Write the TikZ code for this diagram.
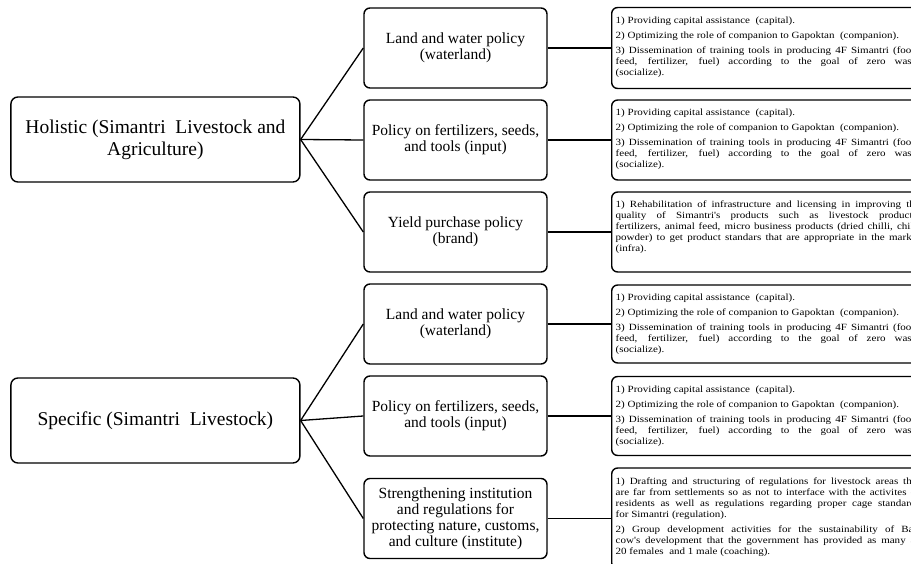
\documentclass[tikz,border=0pt]{standalone}
\usepackage{fontspec}
\setmainfont{Liberation Serif}
\newfontfamily\notefont[FakeStretch=1.16]{Liberation Serif}
\usepackage{tikz}

\newcommand{\notesize}{\notefont\fontsize{9.5}{11}\selectfont}
\newcommand{\notepar}[2]{\parbox[c][#1][t]{304pt}{\notesize\vspace*{1pt}\setlength{\parindent}{0pt}\setlength{\parskip}{4pt}#2}}
\newcommand{\capitaltext}{1) Providing capital assistance~ (capital).\par
2) Optimizing the role of companion to~Gapoktan~ (companion).\par
3) Dissemination of training tools in producing 4F Simantri (food,\linebreak feed, fertilizer, fuel) according to the goal of zero waste\linebreak (socialize).}

\begin{document}
\begin{tikzpicture}[x=1pt, y=-1pt,
    rootbox/.style={draw, line width=1.4pt, rounded corners=7pt, minimum width=289pt, minimum height=85pt, inner sep=0pt, align=center, font=\fontsize{19.5}{22}\selectfont},
    policybox/.style={draw, line width=1.4pt, rounded corners=6pt, minimum width=183pt, minimum height=80pt, inner sep=0pt, align=center, font=\fontsize{15.5}{16}\selectfont},
    notebox/.style={draw, line width=1.4pt, rounded corners=6pt, inner sep=4pt, anchor=west},
    link/.style={line width=1.3pt}]
        \useasboundingbox (0,0) rectangle (911,564);
        \clip (0,0) rectangle (911,564);

        % Two approaches
        \node[rootbox] (hol) at (155.4,139.5) {Holistic (Simantri~ Livestock and\\Agriculture)};
        \node[rootbox] (spec) at (155.4,420.5) {Specific (Simantri~ Livestock)};

        % Policies
        \node[policybox] (m1) at (455.5,48) {Land and water policy\\(waterland)};
        \node[policybox] (m2) at (455.5,140) {Policy on fertilizers, seeds,\\and tools (input)};
        \node[policybox] (m3) at (455.5,232) {Yield purchase policy\\(brand)};
        \node[policybox] (m4) at (455.5,324) {Land and water policy\\(waterland)};
        \node[policybox] (m5) at (455.5,416) {Policy on fertilizers, seeds,\\and tools (input)};
        \node[policybox] (m6) at (455.5,518.5) {Strengthening institution\\and regulations for\\protecting nature, customs,\\and culture (institute)};

        % Programmes
        \node[notebox] (r1) at (611,48) {\notepar{73pt}{\capitaltext}};
        \node[notebox] (r2) at (611,140) {\notepar{72pt}{\capitaltext}};
        \node[notebox] (r3) at (611,232) {\notepar{72pt}{1) Rehabilitation of infrastructure and licensing in improving the\linebreak quality of Simantri's products such as livestock products,\linebreak fertilizers, animal feed, micro business products (dried chilli, chilli\linebreak powder) to get product standars that are appropriate in the market\linebreak (infra).}};
        \node[notebox] (r4) at (611,324) {\notepar{70pt}{\capitaltext}};
        \node[notebox] (r5) at (611,416) {\notepar{71pt}{\capitaltext}};
        \node[notebox] (r6) at (611,518.5) {\notepar{93pt}{\vspace*{1pt}1) Drafting and structuring of regulations for livestock areas that\linebreak are far from settlements so as not to interface with the activites of\linebreak residents as well as regulations regarding proper cage standards\linebreak for Simantri (regulation).\par
2) Group development activities for the sustainability of Bali\linebreak cow's development that the government has provided as many as\linebreak 20 females~ and 1 male (coaching).}};

        \draw[link] (hol.east) -- (m1.west);
        \draw[link] (hol.east) -- (m2.west);
        \draw[link] (hol.east) -- (m3.west);
        \draw[link] (spec.east) -- (m4.west);
        \draw[link] (spec.east) -- (m5.west);
        \draw[link] (spec.east) -- (m6.west);
        \draw[link] (m1) -- (r1);
        \draw[link] (m2) -- (r2);
        \draw[link] (m3) -- (r3);
        \draw[link] (m4) -- (r4);
        \draw[link] (m5) -- (r5);
        \draw[link] (m6) -- (r6);
    \end{tikzpicture}
\end{document}
